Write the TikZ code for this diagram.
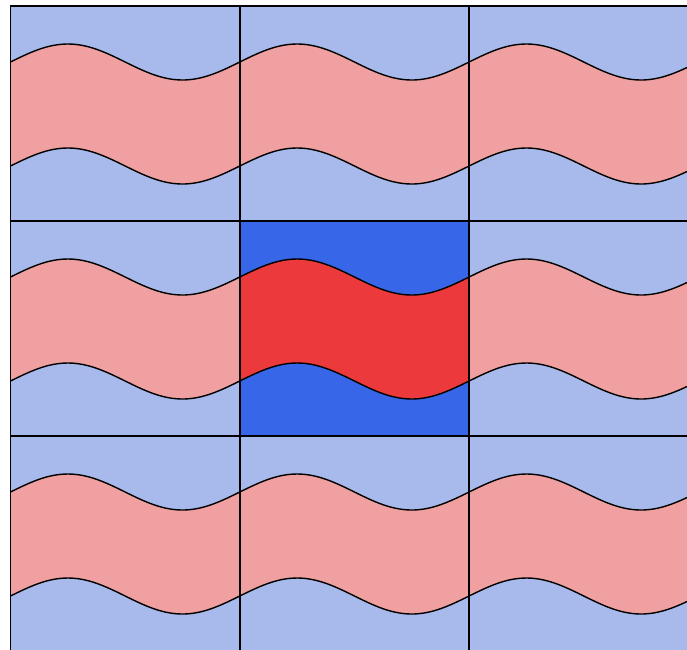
\documentclass[tikz,border=0pt]{standalone}
\definecolor{lblue}{RGB}{168,185,235}
\definecolor{lred}{RGB}{240,160,160}
\definecolor{sblue}{RGB}{56,102,232}
\definecolor{sred}{RGB}{236,57,59}
\tikzset{
  waveline/.style={line width=1.4pt, line join=round},
  cellborder/.style={line width=1.4pt}
}
\newcommand\cellW{229.3}
\newcommand\cellH{215}
\newcommand\cellfill[4]{%
  \fill[#3] (#1,#2) rectangle ++(\cellW,\cellH);
  \fill[#4] plot[domain=0:\cellW, samples=60, smooth] ({#1+\x},{#2+56-18*sin((\x/\cellW)*360)})
     -- plot[domain=\cellW:0, samples=60, smooth] ({#1+\x},{#2+160-18*sin((\x/\cellW)*360)}) -- cycle;
}
\newcommand\celllines[2]{%
  \draw[waveline] plot[domain=0:\cellW, samples=60, smooth] ({#1+\x},{#2+56-18*sin((\x/\cellW)*360)});
  \draw[waveline] plot[domain=0:\cellW, samples=60, smooth] ({#1+\x},{#2+160-18*sin((\x/\cellW)*360)});
  \draw[cellborder] (#1,#2) rectangle ++(\cellW,\cellH);
}
\begin{document}
\begin{tikzpicture}[x=1pt,y=-1pt]
\fill[white] (0,0) rectangle (687,649);
\useasboundingbox (0,0) rectangle (687,649);
\clip (0,0) rectangle (687,649);
\foreach \i in {0,1,2}{
  \foreach \j in {0,1,2}{
    \pgfmathsetmacro\xa{10.5+\i*\cellW}
    \pgfmathsetmacro\ya{6+\j*\cellH}
    \cellfill{\xa}{\ya}{lblue}{lred}
  }
}
\pgfmathsetmacro\xa{10.5+\cellW}
\pgfmathsetmacro\ya{6+\cellH}
\cellfill{\xa}{\ya}{sblue}{sred}
\foreach \i in {0,1,2}{
  \foreach \j in {0,1,2}{
    \pgfmathsetmacro\xa{10.5+\i*\cellW}
    \pgfmathsetmacro\ya{6+\j*\cellH}
    \celllines{\xa}{\ya}
  }
}
\end{tikzpicture}
\end{document}
